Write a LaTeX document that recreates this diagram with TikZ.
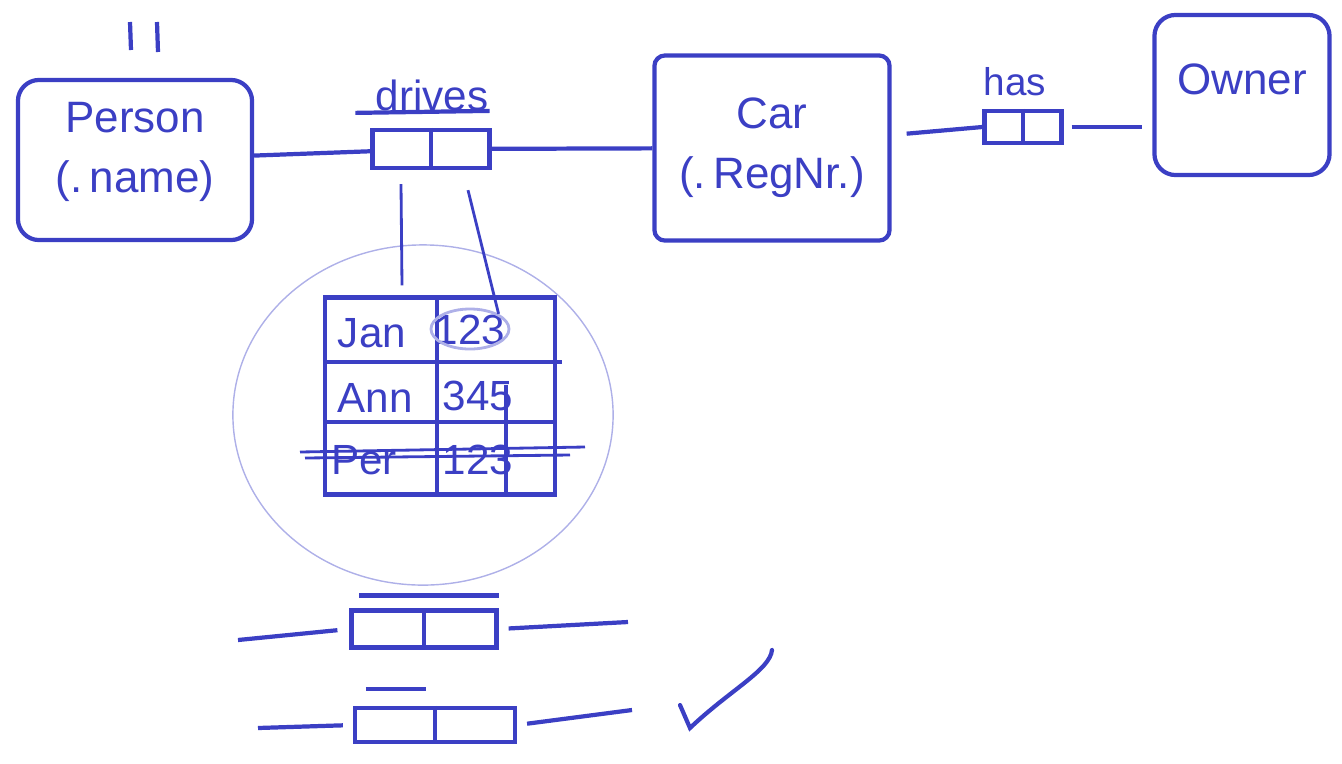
\documentclass[tikz,border=0pt]{standalone}
\usepackage{fontspec}
\setmainfont{Liberation Sans}
\usetikzlibrary{positioning, calc, shapes.geometric}
\definecolor{pen}{HTML}{3B3FC4}
\definecolor{penlight}{HTML}{AEB0E8}

\begin{document}
\begin{tikzpicture}[x=0.01cm, y=-0.01cm,
    entity/.style={rectangle, draw=pen, very thick, rounded corners=6pt,
                   align=center, text=pen, font=\fontsize{12.5}{17}\selectfont},
    rel/.style={rectangle, draw=pen, very thick, inner sep=0pt},
    lbl/.style={text=pen, font=\fontsize{12}{14}\selectfont},
    cell/.style={text=pen, font=\fontsize{12}{14}\selectfont},
    conn/.style={pen, very thick},
    thin pen/.style={pen, thick}
]
    \useasboundingbox (0,0) rectangle (1342,763);

    % Entities
    \node[entity, minimum width=2.34cm, minimum height=1.6cm, text depth=0.25cm] (person) at (135,160) {Person\\(.\,name)};
    \node[entity, rounded corners=3pt, minimum width=2.35cm, minimum height=1.85cm] (car) at (772,148) {Car\\(.\,RegNr.)};
    \node[entity, minimum width=1.75cm, minimum height=1.6cm, text depth=0.32cm] (owner) at (1242,95) {Owner};
    \draw[conn] (130,22) -- (131,50);
    \draw[conn] (157,22) -- (158,52);

    % Relationship drives
    \node[rel, minimum width=1.17cm, minimum height=0.38cm] (drv) at (431,149) {};
    \draw[conn] (drv.north) -- (drv.south);
    \draw[conn] ($(drv.north west)+(-15,-15)$) -- ($(drv.north east)+(-2,-17)$);
    \node[lbl] (drvlbl) at (432,95) {drives};

    % Relationship has
    \node[rel, minimum width=0.77cm, minimum height=0.32cm] (has) at (1023,127) {};
    \draw[conn] (has.north) -- (has.south);
    \node[lbl, font=\fontsize{11}{13}\selectfont] (haslbl) at (1015,82) {has};

    % Connectors
    \draw[conn] (person) -- (drv);
    \draw[conn] (drv) -- (car);
    \draw[conn, shorten <=0.15cm] (car.east |- 0,135) -- (has.west);
    \draw[conn, shorten <=0.08cm, shorten >=0.1cm] (has.east) -- (owner.west |- has.east);

    % Zoom onto the drives table
    \node[draw=penlight, thin, ellipse, minimum width=3.8cm, minimum height=3.4cm] (lens) at (423,415) {};
    \node[rectangle, draw=pen, very thick, minimum width=2.3cm, minimum height=1.97cm] (tbl) at (440,396) {};
    \draw[conn] (tbl.west |- 0,362) -- ($(tbl.east |- 0,362)+(5,0)$);
    \draw[conn] (tbl.west |- 0,422) -- (tbl.east |- 0,422);
    \draw[conn] (437,298) -- (437,495);
    \draw[conn] (506,385) -- (506,495);

    \node[cell] (c11) at (372,333) {Jan};
    \node[cell] (c12) at (470,330) {123};
    \node[cell] (c21) at (375,398) {Ann};
    \node[cell] (c22) at (478,396) {345};
    \node[cell] (c31) at (364,460) {Per};
    \node[cell] (c32) at (478,460) {123};
    \node[draw=penlight, thick, ellipse, minimum width=0.78cm, minimum height=0.4cm] (sel) at (470,329) {};

    % Per row struck out
    \draw[thin pen] (300,452) -- (585,447);
    \draw[thin pen] (305,458) -- (570,455);

    \draw[thin pen] ($(drv.south)+(-30,14)$) -- ($(tbl.north)+(-38,-10)$);
    \draw[thin pen] ($(drv.south)+(37,20)$) -- (sel.north east);

    % Alternatives below
    \node[rel, minimum width=1.45cm, minimum height=0.37cm] (alt1) at (424,629) {};
    \draw[conn] (alt1.north) -- (alt1.south);
    \draw[conn] ($(alt1.north west)+(10,-13)$) -- ($(alt1.north east)+(0,-13)$);
    \coordinate (alt1l) at (238,640);
    \coordinate (alt1r) at (628,622);
    \draw[conn, shorten >=0.12cm] (alt1l) -- (alt1.west);
    \draw[conn, shorten <=0.1cm] (alt1.east) -- (alt1r);

    \node[rel, minimum width=1.6cm, minimum height=0.34cm] (alt2) at (435,725) {};
    \draw[conn] (alt2.north) -- (alt2.south);
    \draw[conn] ($(alt2.north west)+(13,-17)$) -- ($(alt2.north west)+(73,-17)$);
    \coordinate (alt2l) at (258,728);
    \coordinate (alt2r) at (632,710);
    \draw[conn, shorten >=0.1cm] (alt2l) -- (alt2.west);
    \draw[conn, shorten <=0.1cm] (alt2.east) -- (alt2r);

    % Tick
    \draw[conn, line cap=round] (680,705) -- (690,728) .. controls (730,690) and (770,670) .. (772,650);
\end{tikzpicture}
\end{document}
